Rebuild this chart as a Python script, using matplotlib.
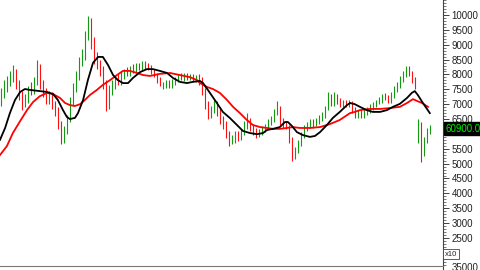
import matplotlib
matplotlib.use("Agg")
import matplotlib.pyplot as plt
from matplotlib.ticker import MultipleLocator

plt.rcParams["font.family"] = ["Liberation Sans", "DejaVu Sans"]

# daily candles
opens = [7100, 7300, 7500, 7700, 7850, 8100, 7700, 7350, 6950, 7150,
         7650, 7450, 7750, 8250, 7700, 7450, 7100, 7300, 7000, 6800,
         6350, 5800, 6100, 6500, 7050, 7500, 7900, 8400, 8600, 9250,
         9800, 9100, 8600, 8400, 8200, 7700, 6900, 7400, 7600, 7900,
         7700, 7900, 8150, 8000, 8250, 8100, 8300, 8150, 8380, 8300,
         8250, 8100, 7950, 7800, 7550, 7600, 7720, 7600, 7700, 7800,
         7950, 7820, 7980, 7850, 7950, 7820, 7950, 7800, 7450, 7000,
         6650, 6750, 7000, 6800, 6500, 6350, 6000, 5700, 5750, 6000,
         5850, 6000, 6250, 6450, 6250, 6100, 5950, 6000, 6100, 6200,
         6350, 6450, 6700, 6900, 6450, 6350, 6250, 5850, 5200, 5400,
         5650, 5900, 6150, 6250, 6420, 6280, 6420, 6500, 6600, 6850,
         7250, 7000, 7250, 7100, 6950, 7100, 6950, 7050, 6850, 6620,
         6750, 6600, 6700, 6780, 6880, 6950, 7050, 7100, 7300, 7250,
         7100, 7250, 7450, 7600, 7800, 7950, 8200, 8050, 7850, 5750,
         6300, 5300, 5750, 6050]
closes = [7410, 7650, 7810, 7980, 8150, 7650, 7310, 6970, 7240, 7410,
          7480, 7750, 8400, 7650, 7410, 7140, 7310, 6970, 6740, 6300,
          5720, 6130, 6540, 7140, 7540, 7980, 8420, 8650, 9330, 9880,
          8990, 8490, 8320, 8080, 7650, 6850, 7540, 7650, 7810, 7750,
          7980, 8080, 8050, 8220, 8150, 8250, 8220, 8350, 8280, 8220,
          8080, 7980, 7810, 7680, 7650, 7710, 7610, 7750, 7810, 7910,
          7850, 7950, 7880, 7910, 7850, 7880, 7750, 7410, 6970, 6640,
          6800, 6970, 6740, 6470, 6300, 5960, 5690, 5800, 5960, 5860,
          6030, 6300, 6600, 6200, 6060, 5960, 6030, 6130, 6230, 6400,
          6470, 6740, 7000, 6400, 6300, 6230, 5800, 5200, 5460, 5690,
          5960, 6200, 6300, 6400, 6300, 6470, 6540, 6640, 6870, 7300,
          7040, 7300, 7070, 6970, 7040, 6970, 7070, 6800, 6640, 6700,
          6600, 6740, 6800, 6900, 6970, 7070, 7140, 7240, 7210, 7140,
          7280, 7480, 7650, 7810, 7980, 8250, 8020, 7810, 7580, 6400,
          5150, 5800, 6100, 6200]
highs = [7550, 7800, 7950, 8100, 8320, 8200, 7800, 7450, 7350, 7600,
         7750, 7900, 8500, 8350, 7800, 7550, 7450, 7400, 7100, 6900,
         6450, 6250, 6650, 7250, 7700, 8100, 8600, 8850, 9450, 9950,
         9900, 9250, 8750, 8500, 8300, 7800, 7650, 7800, 7950, 8000,
         8100, 8200, 8250, 8300, 8350, 8380, 8400, 8450, 8450, 8380,
         8320, 8200, 8050, 7900, 7750, 7800, 7800, 7850, 7900, 8000,
         8050, 8050, 8050, 8000, 8020, 7980, 8000, 7900, 7550, 7100,
         6950, 7150, 7100, 6900, 6600, 6450, 6100, 5950, 6100, 6100,
         6150, 6450, 6700, 6550, 6350, 6200, 6150, 6250, 6350, 6500,
         6600, 6850, 7100, 6950, 6550, 6450, 6300, 5900, 5550, 5800,
         6050, 6300, 6400, 6500, 6500, 6550, 6650, 6750, 6950, 7400,
         7350, 7400, 7350, 7200, 7150, 7150, 7150, 7100, 6900, 6800,
         6800, 6850, 6900, 7000, 7080, 7150, 7250, 7350, 7380, 7300,
         7400, 7600, 7750, 7950, 8100, 8300, 8280, 8100, 7900, 6500,
         6400, 5900, 6200, 6300]
lows = [6950, 7200, 7400, 7600, 7750, 7500, 7150, 6800, 6900, 7050,
        7300, 7350, 7650, 7500, 7250, 7000, 7000, 6850, 6600, 6150,
        5650, 5700, 6000, 6400, 6950, 7400, 7800, 8300, 8500, 9150,
        8850, 8350, 8200, 7950, 7500, 6780, 6850, 7300, 7500, 7650,
        7650, 7850, 7950, 7950, 8050, 8050, 8150, 8100, 8200, 8150,
        8000, 7900, 7700, 7600, 7500, 7550, 7550, 7550, 7650, 7750,
        7800, 7780, 7800, 7800, 7780, 7750, 7650, 7300, 6850, 6500,
        6550, 6700, 6600, 6350, 6150, 5850, 5600, 5650, 5700, 5750,
        5800, 5950, 6150, 6100, 5950, 5850, 5900, 5950, 6050, 6150,
        6300, 6400, 6650, 6300, 6200, 6150, 5700, 5100, 5150, 5350,
        5600, 5850, 6100, 6200, 6200, 6250, 6350, 6450, 6550, 6800,
        6950, 6950, 7000, 6900, 6900, 6900, 6900, 6700, 6550, 6550,
        6520, 6550, 6650, 6700, 6820, 6900, 7000, 7050, 7150, 7050,
        7050, 7200, 7400, 7550, 7750, 7900, 7950, 7700, 7500, 5700,
        5050, 5250, 5700, 6000]

# short moving average (black)
ma_short_x = [-0.5, 1.2, 2.8, 4.5, 6.2, 7.8, 9.5, 12.8, 15.2, 17.2,
              18.8, 20.5, 21.8, 22.8, 24.5, 25.5, 27.2, 28.8, 30.5, 32.2,
              33.8, 35.5, 37.2, 38.8, 40.5, 42.2, 43.8, 46.2, 48.5, 50.5,
              52.8, 55.2, 57.2, 59.5, 61.8, 63.8, 66.2, 67.2, 69.5, 71.8,
              73.8, 76.2, 78.5, 80.5, 82.8, 85.2, 87.2, 88.5, 90.5, 92.8,
              94.5, 95.5, 96.8, 98.5, 100.5, 102.8, 104.5, 106.2, 108.5, 110.5,
              112.8, 115.2, 116.2, 117.8, 119.5, 121.8, 123.8, 126.2, 128.5, 130.5,
              132.8, 135.2, 136.8, 137.8, 138.8, 140.5, 142.8]
ma_short = [5800, 6200, 6700, 7140, 7410, 7510, 7480, 7440, 7410, 7340,
            7140, 6800, 6570, 6500, 6540, 6700, 7140, 7810, 8390, 8590,
            8590, 8320, 7980, 7810, 7710, 7710, 7880, 8080, 8180, 8180,
            8120, 8050, 7880, 7750, 7710, 7750, 7780, 7710, 7380, 7040,
            6740, 6530, 6300, 6100, 6030, 5990, 6030, 6130, 6170, 6230,
            6400, 6400, 6270, 6060, 5960, 5900, 5930, 6060, 6300, 6540,
            6740, 6970, 7040, 7000, 6910, 6800, 6740, 6740, 6800, 6910,
            7010, 7210, 7380, 7440, 7310, 7040, 6700]

# long moving average (red)
ma_long_x = [-0.5, 1.8, 3.8, 6.2, 8.5, 10.5, 12.8, 15.2, 17.2, 19.5,
             21.2, 22.8, 24.5, 26.2, 27.8, 29.5, 31.8, 33.8, 36.2, 38.5,
             40.5, 42.8, 45.2, 47.2, 49.5, 52.8, 56.2, 59.5, 62.8, 65.2,
             66.2, 68.5, 70.5, 72.8, 75.2, 77.2, 79.5, 81.8, 83.8, 86.2,
             88.5, 90.5, 92.8, 95.2, 97.2, 99.5, 102.8, 106.2, 109.5, 112.8,
             116.2, 117.8, 119.5, 122.8, 126.2, 129.5, 132.8, 135.2, 137.2, 138.5,
             140.2, 142.2]
ma_long = [5290, 5590, 6030, 6430, 6800, 7070, 7270, 7380, 7340, 7210,
           7040, 6970, 6940, 7000, 7140, 7310, 7480, 7650, 7810, 7980,
           8120, 8120, 8050, 7980, 7950, 8020, 8050, 7980, 7910, 7810,
           7710, 7580, 7510, 7380, 7140, 6910, 6700, 6470, 6300, 6230,
           6200, 6170, 6170, 6200, 6230, 6200, 6200, 6230, 6330, 6470,
           6700, 6740, 6800, 6840, 6840, 6870, 6910, 7040, 7170, 7110,
           7040, 6910]

last_label = "60900.00"
last_price = 6170
y_ticks = list(range(2500, 10001, 500))
y_labels = [str(t) if t != 6000 else "" for t in y_ticks]

fig = plt.figure(figsize=(4.8, 2.7), dpi=100)
ax = fig.add_axes([0, 5 / 270, 443 / 480, 265 / 270])

green = "#139a13"
red = "#ff1010"
idx = list(range(len(closes)))
cols = [green if closes[i] >= opens[i] else red for i in idx]
ax.vlines(idx, lows, highs, colors=cols, lw=0.8)
ax.bar(idx, [closes[i] - opens[i] for i in idx], bottom=opens,
       width=0.6, color=cols, linewidth=0)

ax.plot(ma_long_x, ma_long, color="#ff0000", lw=1.3)
ax.plot(ma_short_x, ma_short, color="black", lw=1.3)

ax.set_xlim(-0.5, 147.2)
ax.set_ylim(1590, 10505)
for s in ["top", "left", "bottom"]:
    ax.spines[s].set_visible(False)
ax.spines["right"].set_color("#444444")
ax.spines["right"].set_linewidth(0.8)
ax.set_xticks([])
ax.yaxis.tick_right()
ax.set_yticks(y_ticks)
ax.set_yticklabels(y_labels)
ax.yaxis.set_minor_locator(MultipleLocator(100))
ax.tick_params(axis="y", which="major", length=4, width=0.6, pad=2,
               labelsize=7, colors="#222222")
ax.tick_params(axis="y", which="minor", length=2, width=0.5, colors="#444444")

ax.annotate(last_label, xy=(1.0, last_price), xycoords=("axes fraction", "data"),
            xytext=(2, 0), textcoords="offset points", ha="left", va="center",
            fontsize=7, color="#00ee00", annotation_clip=False,
            bbox=dict(boxstyle="square,pad=0.15", fc="black", ec="black"))

# volume pane strip at the bottom
vax = fig.add_axes([0, 0, 443 / 480, 4 / 270])
vax.set_xticks([])
vax.set_yticks([])
for s in ["left", "bottom"]:
    vax.spines[s].set_visible(False)
vax.spines["top"].set_color("#777777")
vax.spines["top"].set_linewidth(0.8)
vax.spines["right"].set_color("#444444")
vax.spines["right"].set_linewidth(0.8)

fig.text(445 / 480, 1 - 254 / 270, "x10", fontsize=5.5, va="center", ha="left",
         color="#222222",
         bbox=dict(boxstyle="square,pad=0.2", fc="white", ec="#444444", lw=0.6))
fig.text(452 / 480, 1 - 268 / 270, "35000", fontsize=7, va="center", ha="left",
         color="#222222")

fig.savefig("out.png", dpi=100)
